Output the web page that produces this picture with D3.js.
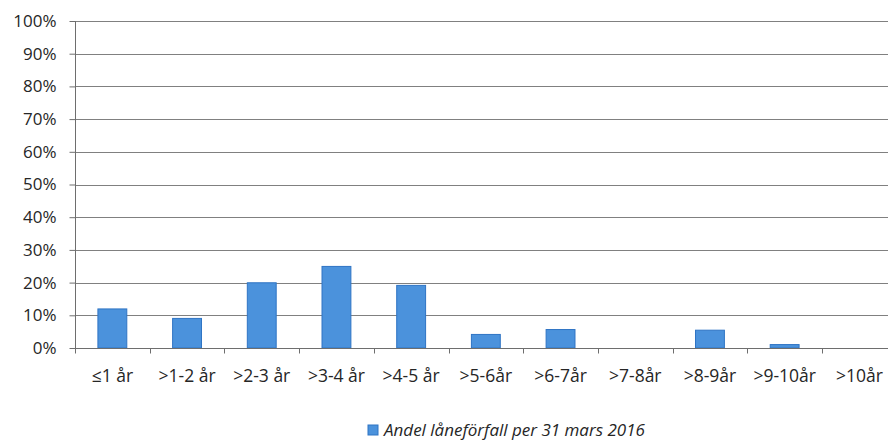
<!DOCTYPE html>
<html>
<head>
<meta charset="utf-8">
<script src="https://cdn.jsdelivr.net/npm/d3@7"></script>
<style>
  html, body { margin: 0; padding: 0; background: #fff; }
  svg { display: block; }
</style>
</head>
<body>
<svg id="chart" width="888" height="440"></svg>
<script>
// Maturity buckets and share of loans maturing in each
const categories = ["≤1 år", ">1-2 år", ">2-3 år", ">3-4 år", ">4-5 år", ">5-6år", ">6-7år", ">7-8år", ">8-9år", ">9-10år", ">10år"];
const shares = [12.1, 9.2, 20.1, 25.1, 19.3, 4.3, 5.8, 0, 5.6, 1.2, 0];
const yTicks = [0, 10, 20, 30, 40, 50, 60, 70, 80, 90, 100];
const seriesName = "Andel låneförfall per 31 mars 2016";

const svg = d3.select("#chart");
const font = "'Open Sans', 'DejaVu Sans', sans-serif";
const ink = "#262626";

const plotLeft = 75, plotTop = 21, plotBottom = 348;
const band = 74.7;
const x = d3.scaleBand().domain(categories).range([plotLeft, plotLeft + band * categories.length]).paddingInner(0.6).paddingOuter(0.3);
const y = d3.scaleLinear().domain([0, 100]).range([plotBottom, plotTop]);

// Gridlines
svg.append("g").selectAll("line").data(yTicks.filter(d => d > 0)).join("line")
  .attr("x1", plotLeft).attr("x2", 888)
  .attr("y1", d => Math.round(y(d)) + 0.5).attr("y2", d => Math.round(y(d)) + 0.5)
  .attr("stroke", "#808080").attr("stroke-width", 1);

// Bars
svg.append("g").selectAll("rect").data(shares.map((v, i) => ({ c: categories[i], v })).filter(d => d.v > 0)).join("rect")
  .attr("x", d => x(d.c) + 0.5)
  .attr("y", d => y(d.v) + 0.5)
  .attr("width", x.bandwidth() - 1)
  .attr("height", d => y(0) - y(d.v) - 0.5)
  .attr("fill", "#4b92dc")
  .attr("stroke", "#2f74c4").attr("stroke-width", 1);

// Y axis
const yAxis = d3.axisLeft(y).tickValues(yTicks).tickFormat(d => d + "%").tickSize(6).tickPadding(13);
const gy = svg.append("g").attr("transform", `translate(${plotLeft + 0.5},0)`).call(yAxis);
gy.select(".domain").attr("stroke", "#6e6e6e").attr("d", `M-0,${plotTop}V${plotBottom}`);
gy.selectAll(".tick line").attr("stroke", "#6e6e6e");
gy.selectAll(".tick text").attr("font-family", font).attr("font-size", 17).attr("fill", ink);

// X axis with ticks at category boundaries
const gx = svg.append("g").attr("transform", `translate(0,${Math.round(plotBottom) + 0.5})`);
gx.append("line").attr("x1", plotLeft).attr("x2", 888).attr("stroke", "#6e6e6e");
const bounds = d3.range(categories.length + 1).map(i => plotLeft + band * i);
gx.selectAll("line.tk").data(bounds).join("line").attr("class", "tk")
  .attr("x1", d => Math.round(d) + 0.5).attr("x2", d => Math.round(d) + 0.5)
  .attr("y1", 0).attr("y2", 5).attr("stroke", "#6e6e6e");
gx.selectAll("text").data(categories).join("text")
  .attr("x", d => x(d) + x.bandwidth() / 2)
  .attr("y", 33)
  .attr("text-anchor", "middle")
  .attr("font-family", font).attr("font-size", 17.5).attr("fill", ink)
  .text(d => d);

// Legend
const lg = svg.append("g").attr("transform", "translate(368,425)");
lg.append("rect").attr("x", 0).attr("y", 0).attr("width", 10).attr("height", 10)
  .attr("fill", "#4b92dc").attr("stroke", "#2f74c4");
lg.append("text").attr("x", 16).attr("y", 10.5)
  .attr("font-family", font).attr("font-style", "italic").attr("font-size", 17).attr("fill", ink)
  .text(seriesName);
</script>
</body>
</html>
